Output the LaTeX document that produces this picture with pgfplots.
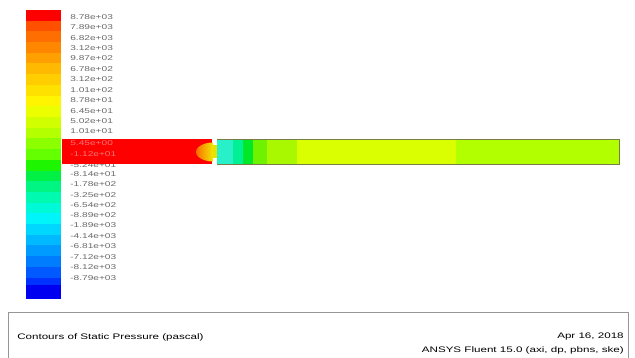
\documentclass[border=0pt]{standalone}
\usepackage{pgfplots}
\pgfplotsset{compat=1.18}
\usepackage{fontspec}
\setmainfont{Liberation Sans}
\definecolor{lab}{RGB}{105,105,105}
\definecolor{b1}{RGB}{255,0,0}
\definecolor{b2}{RGB}{255,80,0}
\definecolor{b3}{RGB}{255,110,0}
\definecolor{b4}{RGB}{255,135,0}
\definecolor{b5}{RGB}{255,160,0}
\definecolor{b6}{RGB}{255,185,0}
\definecolor{b7}{RGB}{255,205,0}
\definecolor{b8}{RGB}{255,225,0}
\definecolor{b9}{RGB}{255,245,0}
\definecolor{b10}{RGB}{235,255,0}
\definecolor{b11}{RGB}{210,255,0}
\definecolor{b12}{RGB}{180,255,0}
\definecolor{b13}{RGB}{140,255,0}
\definecolor{b14}{RGB}{100,255,0}
\definecolor{b15}{RGB}{30,245,0}
\definecolor{b16}{RGB}{0,240,70}
\definecolor{b17}{RGB}{0,245,130}
\definecolor{b18}{RGB}{0,250,175}
\definecolor{b19}{RGB}{0,250,215}
\definecolor{b20}{RGB}{0,245,250}
\definecolor{b21}{RGB}{0,215,255}
\definecolor{b22}{RGB}{0,185,255}
\definecolor{b23}{RGB}{0,155,255}
\definecolor{b24}{RGB}{0,125,255}
\definecolor{b25}{RGB}{0,90,255}
\definecolor{b26}{RGB}{0,50,255}
\definecolor{b27}{RGB}{0,0,240}
\definecolor{p1}{RGB}{40,240,200}
\definecolor{p2}{RGB}{0,240,150}
\definecolor{p3}{RGB}{0,232,40}
\definecolor{p4}{RGB}{110,242,0}
\definecolor{p5}{RGB}{170,248,0}
\definecolor{p6}{RGB}{218,255,0}
\definecolor{p7}{RGB}{178,255,0}
\begin{document}
\begin{tikzpicture}
\begin{axis}[
  scale only axis, width=635pt, height=358pt,
  xmin=0, xmax=635, ymin=0, ymax=358, y dir=reverse,
  hide axis,
  every axis plot/.append style={draw=none},
]
% background
\addplot[fill=white] coordinates {(0,0) (635,0) (635,358) (0,358)} --cycle;
% colorbar bands
\addplot[fill=b1]  coordinates {(26,10) (61,10) (61,20.7) (26,20.7)} --cycle;
\addplot[fill=b2]  coordinates {(26,20.7) (61,20.7) (61,31.4) (26,31.4)} --cycle;
\addplot[fill=b3]  coordinates {(26,31.4) (61,31.4) (61,42.1) (26,42.1)} --cycle;
\addplot[fill=b4]  coordinates {(26,42.1) (61,42.1) (61,52.8) (26,52.8)} --cycle;
\addplot[fill=b5]  coordinates {(26,52.8) (61,52.8) (61,63.5) (26,63.5)} --cycle;
\addplot[fill=b6]  coordinates {(26,63.5) (61,63.5) (61,74.2) (26,74.2)} --cycle;
\addplot[fill=b7]  coordinates {(26,74.2) (61,74.2) (61,84.9) (26,84.9)} --cycle;
\addplot[fill=b8]  coordinates {(26,84.9) (61,84.9) (61,95.6) (26,95.6)} --cycle;
\addplot[fill=b9]  coordinates {(26,95.6) (61,95.6) (61,106.3) (26,106.3)} --cycle;
\addplot[fill=b10] coordinates {(26,106.3) (61,106.3) (61,117.0) (26,117.0)} --cycle;
\addplot[fill=b11] coordinates {(26,117.0) (61,117.0) (61,127.7) (26,127.7)} --cycle;
\addplot[fill=b12] coordinates {(26,127.7) (61,127.7) (61,138.4) (26,138.4)} --cycle;
\addplot[fill=b13] coordinates {(26,138.4) (61,138.4) (61,149.1) (26,149.1)} --cycle;
\addplot[fill=b14] coordinates {(26,149.1) (61,149.1) (61,159.9) (26,159.9)} --cycle;
\addplot[fill=b15] coordinates {(26,159.9) (61,159.9) (61,170.6) (26,170.6)} --cycle;
\addplot[fill=b16] coordinates {(26,170.6) (61,170.6) (61,181.3) (26,181.3)} --cycle;
\addplot[fill=b17] coordinates {(26,181.3) (61,181.3) (61,192.0) (26,192.0)} --cycle;
\addplot[fill=b18] coordinates {(26,192.0) (61,192.0) (61,202.7) (26,202.7)} --cycle;
\addplot[fill=b19] coordinates {(26,202.7) (61,202.7) (61,213.4) (26,213.4)} --cycle;
\addplot[fill=b20] coordinates {(26,213.4) (61,213.4) (61,224.1) (26,224.1)} --cycle;
\addplot[fill=b21] coordinates {(26,224.1) (61,224.1) (61,234.8) (26,234.8)} --cycle;
\addplot[fill=b22] coordinates {(26,234.8) (61,234.8) (61,245.5) (26,245.5)} --cycle;
\addplot[fill=b23] coordinates {(26,245.5) (61,245.5) (61,256.2) (26,256.2)} --cycle;
\addplot[fill=b24] coordinates {(26,256.2) (61,256.2) (61,266.9) (26,266.9)} --cycle;
\addplot[fill=b25] coordinates {(26,266.9) (61,266.9) (61,277.6) (26,277.6)} --cycle;
\addplot[fill=b26] coordinates {(26,277.6) (61,277.6) (61,285.0) (26,285.0)} --cycle;
\addplot[fill=b27] coordinates {(26,285.0) (61,285.0) (61,299) (26,299)} --cycle;
% colorbar labels
\begin{scope}[every node/.style={anchor=west, text=lab, font=\fontsize{7}{8}\selectfont, xscale=1.45, inner sep=0pt}]
\node at (axis cs:70,16.7) {8.78e+03};
\node at (axis cs:70,27.1) {7.89e+03};
\node at (axis cs:70,37.6) {6.82e+03};
\node at (axis cs:70,48.0) {3.12e+03};
\node at (axis cs:70,58.5) {9.87e+02};
\node at (axis cs:70,68.9) {6.78e+02};
\node at (axis cs:70,79.3) {3.12e+02};
\node at (axis cs:70,89.8) {1.01e+02};
\node at (axis cs:70,100.2) {8.78e+01};
\node at (axis cs:70,110.7) {6.45e+01};
\node at (axis cs:70,121.1) {5.02e+01};
\node at (axis cs:70,131.5) {1.01e+01};
\node at (axis cs:70,165.3) {-5.24e+01};
\node at (axis cs:70,174.5) {-8.14e+01};
\node at (axis cs:70,184.5) {-1.78e+02};
\node at (axis cs:70,194.7) {-3.25e+02};
\node at (axis cs:70,204.9) {-6.54e+02};
\node at (axis cs:70,215.2) {-8.89e+02};
\node at (axis cs:70,225.5) {-1.89e+03};
\node at (axis cs:70,235.9) {-4.14e+03};
\node at (axis cs:70,246.4) {-6.81e+03};
\node at (axis cs:70,256.8) {-7.12e+03};
\node at (axis cs:70,267.2) {-8.12e+03};
\node at (axis cs:70,277.7) {-8.79e+03};
\end{scope}
% pipe: upstream section (red)
\addplot[fill=b1] coordinates {(61.5,139.3) (211.7,139.3) (211.7,164.5) (61.5,164.5)} --cycle;
% orifice throat
\addplot[fill={rgb,255:red,235;green,225;blue,0}] coordinates {(211,145.5) (217,145.5) (217,158.5) (211,158.5)} --cycle;
% downstream bands
\addplot[fill=p1] coordinates {(216.7,139.3) (233,139.3) (233,164.5) (216.7,164.5)} --cycle;
\addplot[fill=p2] coordinates {(233,139.3) (243,139.3) (243,164.5) (233,164.5)} --cycle;
\addplot[fill=p3] coordinates {(243,139.3) (253,139.3) (253,164.5) (243,164.5)} --cycle;
\addplot[fill=p4] coordinates {(253,139.3) (267,139.3) (267,164.5) (253,164.5)} --cycle;
\addplot[fill=p5] coordinates {(267,139.3) (297,139.3) (297,164.5) (267,164.5)} --cycle;
\addplot[fill=p6] coordinates {(297,139.3) (456,139.3) (456,164.5) (297,164.5)} --cycle;
\addplot[fill=p7] coordinates {(456,139.3) (619.5,139.3) (619.5,164.5) (456,164.5)} --cycle;
\addplot[draw={rgb,255:red,120;green,125;blue,70}, line width=0.6pt, fill=none] coordinates {(216.7,139.3) (619.5,139.3) (619.5,164.5) (216.7,164.5)};
% jet blob upstream of orifice
\addplot[left color={rgb,255:red,255;green,110;blue,0}, right color={rgb,255:red,238;green,232;blue,0}] coordinates {
(213,161.5) (208.6,161.2) (204.5,160.2) (201.0,158.7) (198.3,156.8) (196.6,154.5) (196,152)
(196.6,149.5) (198.3,147.2) (201.0,145.3) (204.5,143.8) (208.6,142.8) (213,142.5)} --cycle;
% labels on top of red section
\begin{scope}[every node/.style={anchor=west, text={rgb,255:red,240;green,120;blue,120}, font=\fontsize{7}{8}\selectfont, xscale=1.45, inner sep=0pt}]
\node at (axis cs:70,143.2) {5.45e+00};
\node at (axis cs:70,154.0) {-1.12e+01};
\end{scope}
% legend box
\addplot[draw={rgb,255:red,150;green,150;blue,150}, line width=0.8pt, fill=none] coordinates {(8,362) (8,312) (628,312) (628,362)};
\begin{scope}[every node/.style={text=black, font=\fontsize{8}{9}\selectfont, xscale=1.45, inner sep=0pt}]
\node[anchor=west] at (axis cs:17,337) {Contours of Static Pressure (pascal)};
\node[anchor=east] at (axis cs:624,337) {Apr 16, 2018};
\node[anchor=east] at (axis cs:624,350) {ANSYS Fluent 15.0 (axi, dp, pbns, ske)};
\end{scope}
\end{axis}
\end{tikzpicture}
\end{document}
